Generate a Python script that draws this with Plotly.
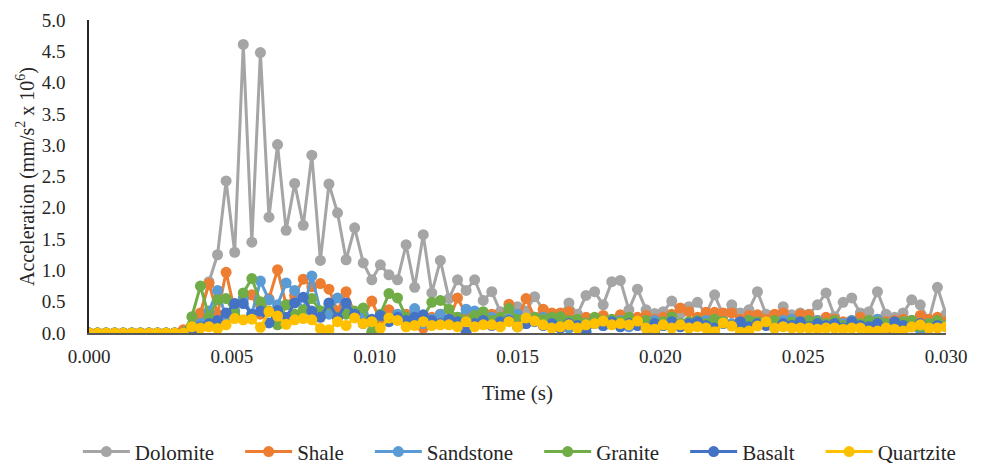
import plotly.graph_objects as go

# Sample clock: 0.3 ms step, 0 to 30 ms
SAMPLE_STEP = 0.0003
time_s = [round(i * SAMPLE_STEP, 4) for i in range(101)]

# Acceleration in mm/s^2 x 10^6
dolomite = [0, 0, 0, 0, 0, 0, 0, 0, 0, 0, 0, 0,
            0.05, 0.30, 0.82, 1.25, 2.43, 1.29, 4.61, 1.45, 4.48, 1.85,
            3.01, 1.64, 2.39, 1.72, 2.84, 1.16, 2.38, 1.92, 1.17, 1.68,
            1.12, 0.85, 1.09, 0.93, 0.85, 1.41, 0.73, 1.57, 0.64, 1.16,
            0.55, 0.85, 0.68, 0.85, 0.52, 0.66, 0.34, 0.30, 0.42, 0.35,
            0.58, 0.37, 0.25, 0.30, 0.48, 0.30, 0.60, 0.66, 0.45, 0.82,
            0.84, 0.37, 0.70, 0.37, 0.31, 0.34, 0.51, 0.30, 0.42, 0.49,
            0.30, 0.61, 0.28, 0.45, 0.32, 0.37, 0.66, 0.30, 0.25, 0.42,
            0.29, 0.32, 0.30, 0.45, 0.64, 0.26, 0.49, 0.56, 0.32, 0.34,
            0.66, 0.30, 0.25, 0.32, 0.53, 0.45, 0.20, 0.73, 0.30]

shale = [0, 0, 0, 0, 0, 0, 0, 0, 0, 0, 0, 0.05,
         0.10, 0.32, 0.79, 0.30, 0.97, 0.35, 0.55, 0.61, 0.30, 0.55,
         1.01, 0.45, 0.60, 0.86, 0.74, 0.79, 0.70, 0.35, 0.66, 0.30,
         0.25, 0.51, 0.20, 0.37, 0.25, 0.30, 0.20, 0.08, 0.25, 0.30,
         0.20, 0.56, 0.30, 0.25, 0.20, 0.30, 0.25, 0.46, 0.20, 0.55,
         0.25, 0.38, 0.32, 0.32, 0.34, 0.20, 0.25, 0.22, 0.28, 0.20,
         0.29, 0.20, 0.25, 0.28, 0.22, 0.25, 0.30, 0.40, 0.34, 0.25,
         0.33, 0.33, 0.32, 0.32, 0.22, 0.28, 0.29, 0.22, 0.30, 0.32,
         0.22, 0.30, 0.29, 0.20, 0.25, 0.22, 0.18, 0.20, 0.25, 0.20,
         0.22, 0.18, 0.20, 0.22, 0.20, 0.28, 0.22, 0.25, 0.18]

sandstone = [0, 0, 0, 0, 0, 0, 0, 0, 0, 0, 0, 0,
             0.05, 0.15, 0.35, 0.68, 0.25, 0.35, 0.55, 0.30, 0.83, 0.53,
             0.45, 0.80, 0.68, 0.35, 0.91, 0.35, 0.30, 0.56, 0.45, 0.25,
             0.30, 0.20, 0.28, 0.22, 0.30, 0.20, 0.39, 0.15, 0.22, 0.30,
             0.18, 0.25, 0.38, 0.35, 0.22, 0.25, 0.18, 0.22, 0.30, 0.15,
             0.20, 0.25, 0.12, 0.20, 0.08, 0.18, 0.15, 0.22, 0.12, 0.18,
             0.20, 0.10, 0.18, 0.15, 0.20, 0.12, 0.18, 0.15, 0.10, 0.18,
             0.20, 0.12, 0.18, 0.15, 0.10, 0.20, 0.15, 0.18, 0.12, 0.20,
             0.22, 0.15, 0.18, 0.20, 0.12, 0.18, 0.15, 0.20, 0.10, 0.18,
             0.22, 0.15, 0.12, 0.18, 0.20, 0.05, 0.15, 0.18, 0.12]

granite = [0, 0, 0, 0, 0, 0, 0, 0, 0, 0, 0, 0,
           0.26, 0.75, 0.26, 0.53, 0.55, 0.30, 0.64, 0.87, 0.50, 0.35,
           0.13, 0.45, 0.30, 0.37, 0.55, 0.35, 0.45, 0.25, 0.30, 0.35,
           0.40, 0.02, 0.30, 0.63, 0.56, 0.25, 0.20, 0.25, 0.49, 0.52,
           0.38, 0.25, 0.20, 0.28, 0.34, 0.20, 0.25, 0.39, 0.22, 0.18,
           0.25, 0.22, 0.25, 0.26, 0.20, 0.22, 0.15, 0.25, 0.20, 0.22,
           0.18, 0.25, 0.15, 0.20, 0.02, 0.18, 0.26, 0.15, 0.18, 0.20,
           0.15, 0.22, 0.18, 0.12, 0.15, 0.20, 0.18, 0.15, 0.20, 0.12,
           0.18, 0.15, 0.20, 0.18, 0.15, 0.20, 0.12, 0.18, 0.15, 0.20,
           0.18, 0.15, 0.12, 0.18, 0.20, 0.10, 0.15, 0.20, 0.12]

basalt = [0, 0, 0, 0, 0, 0, 0, 0, 0, 0, 0, 0,
          0.02, 0.10, 0.15, 0.20, 0.32, 0.47, 0.47, 0.30, 0.35, 0.16,
          0.36, 0.25, 0.48, 0.57, 0.35, 0.25, 0.48, 0.24, 0.48, 0.30,
          0.15, 0.22, 0.28, 0.18, 0.25, 0.20, 0.25, 0.29, 0.20, 0.15,
          0.22, 0.18, 0.02, 0.15, 0.20, 0.12, 0.18, 0.20, 0.10, 0.15,
          0.18, 0.12, 0.15, 0.08, 0.15, 0.12, 0.02, 0.15, 0.12, 0.18,
          0.10, 0.15, 0.12, 0.08, 0.15, 0.12, 0.18, 0.10, 0.15, 0.18,
          0.12, 0.08, 0.15, 0.12, 0.18, 0.10, 0.15, 0.12, 0.08, 0.15,
          0.12, 0.18, 0.10, 0.15, 0.12, 0.15, 0.08, 0.18, 0.12, 0.10,
          0.15, 0.05, 0.18, 0.12, 0.10, 0.15, 0.08, 0.12, 0.10]

quartzite = [0, 0, 0, 0, 0, 0, 0, 0, 0, 0, 0, 0,
             0.10, 0.08, 0.10, 0.07, 0.13, 0.23, 0.21, 0.22, 0.09, 0.34,
             0.27, 0.14, 0.21, 0.23, 0.21, 0.07, 0.05, 0.18, 0.12, 0.24,
             0.15, 0.18, 0.08, 0.24, 0.20, 0.10, 0.12, 0.18, 0.12, 0.13,
             0.13, 0.10, 0.18, 0.10, 0.13, 0.13, 0.10, 0.18, 0.10, 0.24,
             0.19, 0.13, 0.08, 0.10, 0.13, 0.08, 0.13, 0.15, 0.19, 0.13,
             0.15, 0.13, 0.19, 0.08, 0.06, 0.13, 0.08, 0.13, 0.08, 0.10,
             0.08, 0.02, 0.16, 0.11, 0.01, 0.03, 0.11, 0.18, 0.08, 0.10,
             0.08, 0.08, 0.08, 0.06, 0.08, 0.08, 0.06, 0.08, 0.08, 0.03,
             0.03, 0.08, 0.06, 0.03, 0.10, 0.13, 0.08, 0.08, 0.10]

series_names = ["Dolomite", "Shale", "Sandstone", "Granite", "Basalt", "Quartzite"]
series_values = [dolomite, shale, sandstone, granite, basalt, quartzite]
series_colors = ["#A5A5A5", "#ED7D31", "#5B9BD5", "#70AD47", "#4472C4", "#FFC000"]

x_ticks = [0.000, 0.005, 0.010, 0.015, 0.020, 0.025, 0.030]
y_ticks = [0.0, 0.5, 1.0, 1.5, 2.0, 2.5, 3.0, 3.5, 4.0, 4.5, 5.0]

FONT = "'Liberation Serif', Tinos, 'Times New Roman', 'DejaVu Serif', serif"
TEXT_COLOR = "#262626"
LEGEND_PAD = "\u00a0" * 4  # extra room after each legend label

fig = go.Figure()
for k, (name, vals, color) in enumerate(zip(series_names, series_values, series_colors)):
    label = name if k == len(series_names) - 1 else name + LEGEND_PAD
    fig.add_trace(go.Scatter(
        x=time_s, y=vals, name=label, mode="lines+markers",
        line=dict(color=color, width=3),
        marker=dict(color=color, size=11, symbol="circle"),
    ))

fig.update_layout(
    width=987, height=463,
    margin=dict(l=89, r=41, t=20, b=130, autoexpand=False),
    paper_bgcolor="white", plot_bgcolor="white",
    font=dict(family=FONT, size=19, color=TEXT_COLOR),
    showlegend=True,
    legend=dict(orientation="h", x=-0.013, xanchor="left", y=-0.38, yanchor="middle",
                font=dict(family=FONT, size=21, color=TEXT_COLOR),
                itemwidth=47, tracegroupgap=0),
)

fig.update_xaxes(
    range=[0, 0.030], tickvals=x_ticks, tickformat=".3f", automargin=False,
    tickfont=dict(family=FONT, size=19, color=TEXT_COLOR),
    showgrid=False, zeroline=False, showline=True, linecolor="#595959", linewidth=1.5,
    ticks="", ticklabelstandoff=5,
    title=dict(text="Time (s)", font=dict(family=FONT, size=21, color=TEXT_COLOR), standoff=20),
)
fig.update_yaxes(
    range=[0, 5.0], tickvals=y_ticks, tickformat=".1f", automargin=False,
    tickfont=dict(family=FONT, size=19, color=TEXT_COLOR),
    showgrid=False, zeroline=False, showline=True, linecolor="#262626", linewidth=1.5,
    ticks="", ticklabelstandoff=18,
    title=dict(text="Acceleration (mm/s<sup>2</sup> x 10<sup>6</sup>)",
               font=dict(family=FONT, size=20, color=TEXT_COLOR), standoff=2),
)

fig.write_html("out.html")
